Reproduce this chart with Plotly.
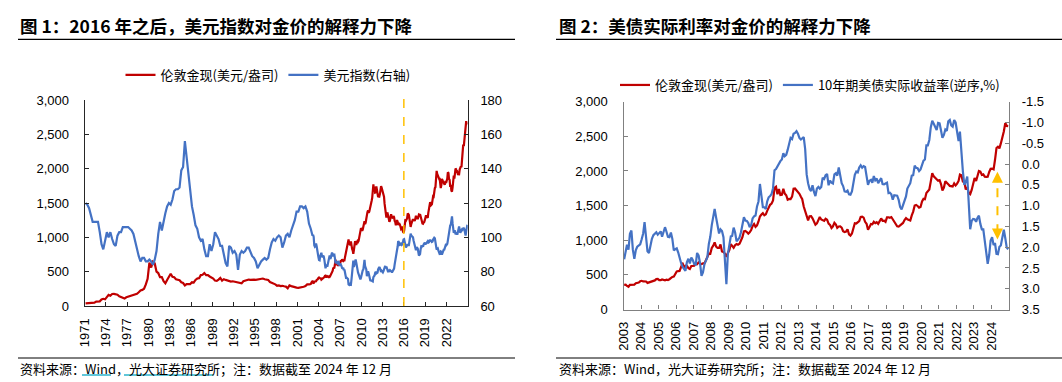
import pandas as pd
import plotly.graph_objects as go

# ---------------- data ----------------
# Chart 1: quarterly 1971Q1-2002Q4
gold_q = [
    38.5, 39.5, 41.5, 42.5,  46, 49, 65, 64,  68, 95, 105, 97,  137, 162, 150, 175,
    177, 167, 164, 142,  130, 127, 110, 127,  136, 147, 146, 158,  175, 177, 200, 227,
    234, 251, 314, 395,  630, 560, 645, 620,  500, 480, 420, 420,  360, 330, 380, 420,
    470, 425, 420, 390,  380, 375, 345, 335,  300, 320, 320, 320,  345, 340, 380, 400,
    405, 450, 455, 480,  450, 450, 430, 415,  400, 370, 365, 385,  410, 370, 390, 380,
    370, 360, 355, 360,  355, 340, 345, 340,  330, 360, 370, 370,  385, 380, 385, 385,
    380, 385, 385, 385,  400, 390, 385, 378,  350, 342, 330, 315,  295, 300, 290, 294,
    287, 282, 258, 300,  290, 280, 275, 268,  263, 265, 270, 280,  290, 315, 315, 320,
]
dxy_q = [
    120, 119, 117, 112,  109, 109, 109, 109,  103, 96, 93, 98,  103, 100, 103, 99,
    96, 95, 101, 103,  103, 106, 106, 106,  106, 105, 104, 102,  97, 93, 89, 86,
    88, 88, 86, 86,  87, 86, 84, 87,  92, 102, 109, 104,  110, 114, 118, 120,
    119, 122, 127, 128,  128, 129, 139, 141,  156, 146, 138, 127,  118, 113, 107, 105,
    100, 98, 99, 93,  89, 89, 96, 92,  96, 103, 101, 99,  95, 95, 90, 85,
    83, 95, 94, 91,  92, 90, 81, 90,  92, 91, 92, 94,  94, 91, 89, 88,
    86, 82, 84, 86,  87, 88, 87, 88,  93, 97, 99, 98,  100, 101, 100, 94,
    97, 101, 102, 100,  104, 107, 110, 115,  115, 118, 118, 117,  118, 115, 108, 105,
]
# Monthly 2003-01 .. 2024-12
gold_m = [
    356, 359, 340, 328, 355, 356, 351, 360, 379, 379, 389, 407,
    414, 405, 406, 404, 384, 392, 398, 400, 406, 420, 439, 442,
    424, 423, 434, 429, 422, 430, 424, 437, 456, 470, 476, 510,
    549, 555, 557, 610, 676, 596, 633, 632, 598, 586, 628, 629,
    631, 665, 655, 679, 667, 655, 665, 665, 712, 754, 806, 803,
    889, 922, 968, 909, 888, 889, 939, 839, 829, 807, 761, 816,
    858, 943, 924, 890, 928, 946, 934, 949, 996, 1043, 1127, 1134,
    1118, 1095, 1113, 1148, 1205, 1233, 1193, 1215, 1271, 1343, 1370, 1391,
    1360, 1374, 1424, 1474, 1512, 1529, 1573, 1756, 1772, 1665, 1739, 1652,
    1656, 1742, 1673, 1650, 1585, 1596, 1594, 1630, 1744, 1747, 1721, 1688,
    1670, 1627, 1593, 1487, 1414, 1343, 1287, 1347, 1349, 1316, 1275, 1225,
    1244, 1300, 1336, 1299, 1287, 1279, 1311, 1296, 1239, 1222, 1176, 1201,
    1251, 1227, 1179, 1198, 1199, 1182, 1131, 1117, 1125, 1159, 1086, 1068,
    1097, 1200, 1246, 1242, 1260, 1276, 1337, 1340, 1326, 1266, 1238, 1152,
    1192, 1234, 1231, 1266, 1246, 1260, 1236, 1283, 1315, 1280, 1283, 1265,
    1331, 1331, 1325, 1335, 1303, 1282, 1238, 1202, 1198, 1215, 1221, 1250,
    1291, 1320, 1301, 1286, 1284, 1359, 1413, 1500, 1510, 1495, 1471, 1480,
    1560, 1597, 1592, 1683, 1716, 1732, 1846, 1968, 1922, 1900, 1866, 1858,
    1867, 1808, 1718, 1760, 1850, 1834, 1807, 1785, 1776, 1777, 1821, 1790,
    1817, 1856, 1948, 1937, 1849, 1836, 1733, 1764, 1681, 1665, 1726, 1798,
    1898, 1855, 1913, 2000, 1992, 1943, 1951, 1918, 1916, 1917, 1986, 2031,
    2034, 2023, 2158, 2331, 2350, 2327, 2398, 2471, 2571, 2691, 2651, 2648,
]
dxy_m = [
    102.1, 100.9, 101.5, 100.2, 95.4, 94.6, 95.0, 96.4, 94.8, 91.8, 91.8, 88.5,
    86.8, 86.6, 89.0, 89.6, 91.0, 89.2, 88.3, 89.3, 88.8, 87.0, 84.3, 82.0,
    83.3, 84.1, 82.9, 84.4, 85.6, 88.5, 89.5, 87.5, 88.0, 89.9, 91.1, 90.4,
    88.9, 89.8, 89.9, 87.8, 84.9, 85.7, 85.5, 84.9, 85.5, 86.3, 84.4, 83.4,
    84.8, 84.4, 83.4, 82.1, 81.9, 82.3, 80.9, 81.3, 79.4, 77.8, 75.9, 76.5,
    76.2, 75.8, 72.6, 72.3, 72.9, 72.9, 72.5, 75.6, 78.9, 83.7, 86.4, 82.7,
    84.2, 86.7, 87.1, 85.4, 82.2, 80.3, 79.6, 78.6, 77.2, 76.0, 75.5, 76.5,
    78.0, 80.3, 80.8, 81.2, 85.7, 86.9, 83.3, 82.4, 81.3, 77.4, 78.5, 80.2,
    79.0, 77.4, 76.5, 74.5, 74.9, 74.6, 74.6, 74.3, 76.8, 77.4, 77.8, 79.3,
    80.0, 78.9, 79.5, 79.4, 81.4, 82.2, 82.7, 82.1, 79.8, 79.8, 80.5, 79.9,
    79.6, 80.4, 82.4, 82.4, 83.3, 81.9, 83.0, 81.6, 80.9, 79.7, 80.6, 80.4,
    80.9, 80.5, 80.0, 79.9, 79.9, 80.5, 80.6, 81.8, 84.2, 85.8, 87.6, 88.9,
    92.6, 94.5, 97.8, 97.3, 95.5, 95.6, 96.8, 95.9, 95.6, 96.0, 98.5, 98.7,
    98.9, 97.2, 96.0, 94.0, 94.7, 95.1, 96.0, 95.4, 95.4, 97.6, 99.8, 102.1,
    101.1, 100.6, 100.9, 100.0, 98.2, 97.0, 94.8, 93.2, 92.5, 93.8, 93.9, 93.5,
    90.9, 89.4, 89.8, 90.3, 93.1, 94.7, 94.5, 95.2, 94.6, 95.9, 96.7, 96.9,
    95.9, 96.6, 96.6, 97.2, 97.7, 96.9, 97.1, 98.0, 98.6, 97.9, 97.9, 97.3,
    97.5, 98.7, 99.0, 99.8, 99.5, 96.9, 95.0, 92.9, 93.2, 93.5, 92.3, 90.5,
    90.3, 90.4, 91.8, 91.6, 90.0, 91.1, 92.5, 92.8, 92.9, 93.8, 95.4, 96.2,
    95.7, 96.2, 98.1, 100.8, 103.2, 103.9, 106.9, 107.4, 110.9, 112.2, 108.1, 104.6,
    102.6, 103.6, 104.0, 101.7, 102.8, 103.0, 101.5, 103.1, 105.3, 106.3, 104.6, 102.6,
    103.3, 104.1, 103.7, 105.5, 104.9, 105.2, 104.6, 102.4, 101.0, 103.3, 106.1, 107.3,
]
tips_m = [
    2.29, 2.04, 1.94, 2.06, 1.68, 1.60, 2.06, 2.28, 2.07, 1.99, 1.96, 1.93,
    1.81, 1.67, 1.40, 1.79, 2.10, 2.14, 1.93, 1.80, 1.71, 1.66, 1.64, 1.70,
    1.67, 1.62, 1.75, 1.61, 1.52, 1.63, 1.75, 1.76, 1.65, 1.80, 2.08, 2.05,
    2.03, 2.13, 2.29, 2.38, 2.47, 2.52, 2.57, 2.36, 2.28, 2.39, 2.25, 2.31,
    2.41, 2.42, 2.14, 2.20, 2.38, 2.69, 2.61, 2.41, 2.30, 2.24, 1.92, 1.75,
    1.47, 1.30, 1.08, 1.29, 1.46, 1.67, 1.57, 1.61, 1.76, 2.46, 2.89, 2.17,
    1.89, 1.74, 1.73, 1.53, 1.64, 1.86, 1.82, 1.77, 1.64, 1.48, 1.28, 1.36,
    1.37, 1.42, 1.52, 1.47, 1.31, 1.26, 1.24, 1.02, 0.90, 0.48, 0.82, 1.04,
    1.04, 1.08, 0.90, 0.80, 0.77, 0.72, 0.58, 0.15, 0.12, 0.06, -0.03, -0.07,
    -0.11, -0.26, -0.19, -0.22, -0.34, -0.50, -0.63, -0.60, -0.73, -0.75, -0.79, -0.73,
    -0.63, -0.59, -0.62, -0.65, -0.36, 0.25, 0.46, 0.60, 0.65, 0.51, 0.67, 0.77,
    0.59, 0.55, 0.59, 0.55, 0.33, 0.36, 0.27, 0.24, 0.51, 0.40, 0.45, 0.47,
    0.25, 0.22, 0.28, 0.08, 0.27, 0.46, 0.53, 0.66, 0.67, 0.64, 0.73, 0.74,
    0.66, 0.43, 0.26, 0.18, 0.20, 0.08, 0.03, 0.09, 0.05, 0.07, 0.34, 0.50,
    0.40, 0.38, 0.45, 0.29, 0.39, 0.35, 0.46, 0.40, 0.34, 0.48, 0.49, 0.47,
    0.45, 0.70, 0.69, 0.73, 0.86, 0.75, 0.76, 0.76, 0.86, 1.03, 1.09, 0.98,
    0.91, 0.78, 0.59, 0.53, 0.46, 0.28, 0.27, 0.04, 0.09, 0.10, 0.17, 0.13,
    0.01, -0.08, -0.11, -0.45, -0.45, -0.58, -0.88, -1.04, -0.97, -0.90, -0.82, -0.99,
    -0.98, -0.80, -0.63, -0.70, -0.83, -0.80, -1.03, -1.06, -0.93, -0.90, -1.06, -1.00,
    -0.76, -0.55, -0.78, -0.19, 0.17, 0.50, 0.43, 0.30, 0.99, 1.57, 1.37, 1.32,
    1.33, 1.39, 1.30, 1.24, 1.44, 1.57, 1.57, 1.83, 2.05, 2.40, 2.19, 1.84,
    1.76, 1.95, 1.90, 2.16, 2.17, 1.99, 1.96, 1.76, 1.58, 1.78, 2.01, 2.05,
]

c1_tick_years = list(range(1971, 2023, 3))
c2_tick_years = list(range(2003, 2025))
left_ticks = [0, 500, 1000, 1500, 2000, 2500, 3000]
dxy_ticks = [60, 80, 100, 120, 140, 160, 180]
tips_ticks = [-1.5, -1.0, -0.5, 0.0, 0.5, 1.0, 1.5, 2.0, 2.5, 3.0, 3.5]
marker_2016 = "2016-01-01"
arrow_x = "2024-05-05"
arrow_vals = [1010, 1990]

name_gold = "伦敦金现(美元/盎司)"
name_dxy = "美元指数(右轴)"
name_tips = "10年期美债实际收益率(逆序,%)"
title1 = "图 1：2016 年之后，美元指数对金价的解释力下降"
title2 = "图 2：美债实际利率对金价的解释力下降"
source_txt = "资料来源：Wind，光大证券研究所；注：数据截至 2024 年 12 月"

assert len(gold_q) == 128 and len(dxy_q) == 128
assert len(gold_m) == 264 and len(dxy_m) == 264 and len(tips_m) == 264

q_dates = list(pd.date_range("1971-01-01", "2002-12-31", freq="QS") + pd.Timedelta(days=45))
m_dates = list(pd.date_range("2003-01-01", "2024-12-01", freq="MS") + pd.Timedelta(days=14))

# ---------------- figure ----------------
W, H = 1062, 382
RED = "#C00000"
BLUE = "#4472C4"
ORANGE = "#FFC000"
CJK = "Noto Sans CJK SC"
NUM = "Liberation Sans, Noto Sans CJK SC"


def px_x(p):
    return p / W


def px_y(p):
    return 1 - p / H


fig = go.Figure()

fig.add_trace(go.Scatter(x=q_dates + m_dates, y=gold_q + gold_m, name=name_gold, mode="lines",
                         line=dict(color=RED, width=2.2), xaxis="x", yaxis="y", legend="legend"))
fig.add_trace(go.Scatter(x=q_dates + m_dates, y=dxy_q + dxy_m, name=name_dxy, mode="lines",
                         line=dict(color=BLUE, width=2.2), xaxis="x", yaxis="y2", legend="legend"))
fig.add_trace(go.Scatter(x=m_dates, y=gold_m, name=name_gold, mode="lines",
                         line=dict(color=RED, width=2.2), xaxis="x2", yaxis="y3", legend="legend2"))
fig.add_trace(go.Scatter(x=m_dates, y=tips_m, name=name_tips, mode="lines",
                         line=dict(color=BLUE, width=2.2), xaxis="x2", yaxis="y4", legend="legend2"))

axis_font = dict(family=NUM, size=13, color="#000000")
ax1c = "#262626"
ax2c = "#808080"

common_x = dict(type="date", showgrid=False, zeroline=False, showline=True, ticks="inside",
                ticklen=4, tickangle=-90, tickfont=axis_font, ticklabelstandoff=6)
common_y = dict(showgrid=False, zeroline=False, showline=True, ticks="inside", ticklen=4,
                tickfont=axis_font)

fig.update_layout(
    width=W, height=H, margin=dict(l=0, r=0, t=0, b=0, autoexpand=False),
    paper_bgcolor="white", plot_bgcolor="white",
    font=dict(family=NUM, size=13, color="#000000"),
    hovermode=False,
    xaxis=dict(common_x, domain=[px_x(84.7), px_x(467.7)], anchor="y",
               range=["1971-01-01", "2025-01-01"],
               tickvals=[f"{y}-01-01" for y in c1_tick_years], ticktext=[str(y) for y in c1_tick_years],
               linecolor=ax1c, tickcolor=ax1c, linewidth=1.2),
    yaxis=dict(common_y, domain=[px_y(306), px_y(100)], anchor="x", range=[0, 3000],
               tickvals=left_ticks, tickformat=",", linecolor=ax1c, tickcolor=ax1c, linewidth=1.2,
               ticklabelstandoff=12),
    yaxis2=dict(common_y, overlaying="y", anchor="x", side="right", range=[60, 180],
                tickvals=dxy_ticks, linecolor=ax1c, tickcolor=ax1c, linewidth=1.2,
                ticklabelstandoff=9),
    xaxis2=dict(common_x, domain=[px_x(623.5), px_x(1009)], anchor="y3",
                range=["2003-01-01", "2025-01-01"],
                tickvals=[f"{y}-01-01" for y in c2_tick_years], ticktext=[str(y) for y in c2_tick_years],
                linecolor=ax2c, tickcolor=ax2c, linewidth=1.2),
    yaxis3=dict(common_y, domain=[px_y(309.5), px_y(101.7)], anchor="x2", range=[0, 3000],
                tickvals=left_ticks, tickformat=",", linecolor=ax2c, tickcolor=ax2c, linewidth=1.2,
                ticklabelstandoff=12),
    yaxis4=dict(common_y, overlaying="y3", anchor="x2", side="right", range=[3.5, -1.5],
                tickvals=tips_ticks, ticktext=[f"{v:.1f}" for v in tips_ticks],
                linecolor=ax2c, tickcolor=ax2c, linewidth=1.2, ticklabelstandoff=9),
    legend=dict(orientation="h", x=px_x(268), y=px_y(75), xanchor="center", yanchor="middle",
                font=dict(family=CJK, size=13, color="#000000"), bgcolor="rgba(0,0,0,0)",
                itemwidth=30),
    legend2=dict(orientation="h", x=px_x(810), y=px_y(85), xanchor="center", yanchor="middle",
                 font=dict(family=CJK, size=13, color="#000000"), bgcolor="rgba(0,0,0,0)",
                 itemwidth=30),
    showlegend=True,
)

# 2016 marker in chart 1
fig.add_shape(type="line", xref="x", yref="y domain", x0=marker_2016, x1=marker_2016, y0=0, y1=1.015,
              line=dict(color=ORANGE, width=1.5, dash="dash"))

# double arrow in chart 2
fig.add_shape(type="line", xref="x2", yref="y3", x0=arrow_x, x1=arrow_x,
              y0=arrow_vals[0] + 90, y1=arrow_vals[1] - 90,
              line=dict(color=ORANGE, width=2, dash="dash"))
fig.add_annotation(x=arrow_x, y=arrow_vals[1], xref="x2", yref="y3", ax=0, ay=12, text="",
                   showarrow=True, arrowhead=2, arrowsize=1.1, arrowwidth=2, arrowcolor=ORANGE)
fig.add_annotation(x=arrow_x, y=arrow_vals[0], xref="x2", yref="y3", ax=0, ay=-12, text="",
                   showarrow=True, arrowhead=2, arrowsize=1.1, arrowwidth=2, arrowcolor=ORANGE)

# titles
for txt, x0 in [(title1, 18), (title2, 557)]:
    fig.add_annotation(xref="paper", yref="paper", x=px_x(x0), y=px_y(25), xanchor="left", yanchor="middle",
                       text=f"<b>{txt}</b>", showarrow=False,
                       font=dict(family=CJK, size=17.5, color="#000000"))
# rules under titles and above sources
for x0, x1 in [(18, 515), (556, 1062)]:
    fig.add_shape(type="line", xref="paper", yref="paper", x0=px_x(x0), x1=px_x(x1),
                  y0=px_y(39.3), y1=px_y(39.3), line=dict(color="#000000", width=1.3))
    fig.add_shape(type="line", xref="paper", yref="paper", x0=px_x(x0), x1=px_x(x1),
                  y0=px_y(358), y1=px_y(358), line=dict(color="#000000", width=1))
# sources
for x0 in [18, 556.5]:
    fig.add_annotation(xref="paper", yref="paper", x=px_x(x0), y=px_y(368), xanchor="left", yanchor="middle",
                       text=source_txt, showarrow=False,
                       font=dict(family=CJK, size=13, color="#000000"))
# hyperlink underlines in chart 1 source
for x0, x1 in [(82, 111), (124, 213)]:
    fig.add_shape(type="line", xref="paper", yref="paper", x0=px_x(x0), x1=px_x(x1),
                  y0=px_y(375), y1=px_y(375), line=dict(color="#2BB3CC", width=1.5))

fig.write_html("out.html", config={"displayModeBar": False},
               post_script="document.body.style.margin='0';document.body.style.overflow='hidden';")
